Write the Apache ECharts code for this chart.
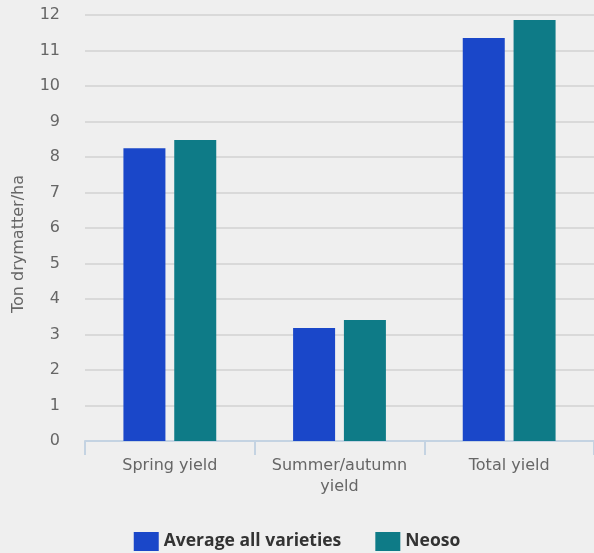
<!DOCTYPE html>
<html><head><meta charset="utf-8">
<script src="https://cdn.jsdelivr.net/npm/echarts@6/dist/echarts.min.js"></script>
<style>html,body{margin:0;padding:0;background:#efefef}#c{width:594px;height:553px}</style>
</head><body><div id="c"></div>
<script>
const categories = ['Spring yield', 'Summer/autumn\nyield', 'Total yield'];
const averageAll = [8.25, 3.18, 11.35];
const neoso = [8.48, 3.41, 11.86];
const seriesNames = ['Average all varieties', 'Neoso'];
const colors = ['#1a47c9', '#0e7b87'];

const chart = echarts.init(document.getElementById('c'));
const font = 'DejaVu Sans, sans-serif';
chart.setOption({
  backgroundColor: '#efefef',
  animation: false,
  color: colors,
  grid: { left: 85, right: 0, top: 15, bottom: 112, outerBoundsMode: 'none', containLabel: false },
  legend: {
    top: 527, left: 'center', itemWidth: 25, itemHeight: 19, itemGap: 34,
    icon: 'rect',
    textStyle: { fontFamily: 'Open Sans, sans-serif', fontSize: 17.5, fontWeight: 'bold', color: '#333' },
    data: seriesNames
  },
  xAxis: {
    type: 'category', data: categories,
    axisLine: { lineStyle: { color: '#c4d3e2', width: 2 } },
    axisTick: { show: true, interval: 0, length: 14, lineStyle: { color: '#c4d3e2', width: 2 } },
    axisLabel: { interval: 0, hideOverlap: false, fontFamily: font, fontSize: 16, color: '#666', margin: 14, lineHeight: 21 }
  },
  yAxis: {
    type: 'value', min: 0, max: 12, interval: 1,
    name: 'Ton drymatter/ha', nameLocation: 'middle', nameGap: 58, nameRotate: 90,
    nameTextStyle: { fontFamily: font, fontSize: 16, color: '#666', padding: [0, 32, 0, 0] },
    axisLine: { show: false }, axisTick: { show: false },
    axisLabel: { fontFamily: font, fontSize: 16, color: '#666', margin: 25 },
    splitLine: { lineStyle: { color: '#d9d9d9', width: 2 } }
  },
  series: [
    { name: seriesNames[0], type: 'bar', data: averageAll, barWidth: 42, barGap: '21%' },
    { name: seriesNames[1], type: 'bar', data: neoso, barWidth: 42, barGap: '21%' }
  ]
});
</script></body></html>
